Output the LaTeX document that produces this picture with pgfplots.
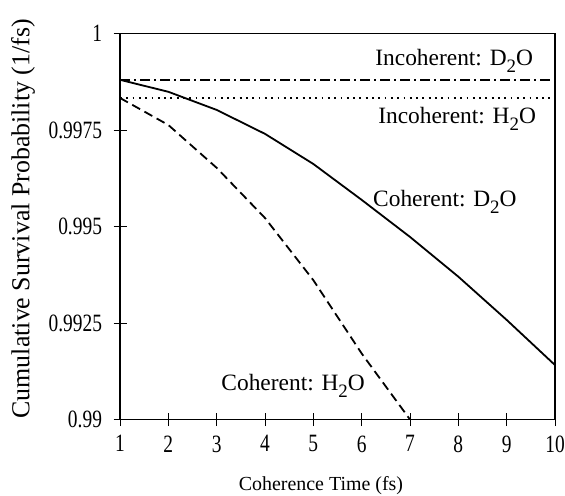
\documentclass[border=0pt]{standalone}
\usepackage{pgfplots}
\pgfplotsset{compat=1.18}
\usepackage{graphicx}
\usepackage{fontspec}
\setmainfont{Liberation Serif}
\newcommand{\tl}[1]{\scalebox{0.78}[1]{\fontsize{25}{25}\selectfont #1}}
\newcommand{\sub}[1]{\raisebox{-0.3em}{\fontsize{19}{19}\selectfont #1}}
\begin{document}
\begin{tikzpicture}
\begin{axis}[
 width=435bp, height=386bp, scale only axis,
 xmin=1, xmax=10, ymin=0.99, ymax=1,
 xtick={1,2,3,4,5,6,7,8,9,10},
 xticklabels={\tl{1},\tl{2},\tl{3},\tl{4},\tl{5},\tl{6},\tl{7},\tl{8},\tl{9},\tl{10}},
 ytick={0.99,0.9925,0.995,0.9975,1},
 yticklabels={\tl{0.99},\tl{0.9925},\tl{0.995},\tl{0.9975},\tl{1}},
 xtick pos=bottom, ytick pos=left,
 tick align=center,
 major tick length=13bp,
 axis line style={line width=1.2bp},
 every tick/.style={black, line width=0.9bp},
 yticklabel style={xshift=-8bp},
 xticklabel style={yshift=-6bp},
 scaled y ticks=false,
 xlabel={Coherence Time (fs)},
 ylabel={Cumulative Survival Probability (1/fs)},
 xlabel style={font=\fontsize{20}{20}\selectfont, at={(axis description cs:0.462,-0.172)}, anchor=center},
 ylabel style={font=\fontsize{26}{26}\selectfont, at={(axis description cs:-0.223,0.52)}, anchor=center},
]
\addplot[black, line width=1.6bp, dash pattern=on 10bp off 4bp on 2bp off 4bp] coordinates {(1,0.9988) (10,0.9988)};
\addplot[black, line width=1.8bp, dash pattern=on 1.8bp off 4.5bp] coordinates {(1,0.99833) (10,0.99833)};
\addplot[black, line width=1.8bp] coordinates {
(1,0.99880) (2,0.99849) (3,0.99802) (4,0.99740) (5,0.99662) (6,0.99569) (7,0.99473) (8,0.99370) (9,0.99258) (10,0.99141)};
\addplot[black, line width=1.8bp, dash pattern=on 9bp off 5bp] coordinates {
(1,0.99833) (2,0.99763) (3,0.99652) (4,0.99522) (5,0.99361) (6,0.99171) (7,0.99000)};
\node[anchor=base east, inner sep=0pt, font=\fontsize{23.5}{24}\selectfont] at (axis cs:9.55,0.99917) {Incoherent: D\sub{2}O};
\node[anchor=base east, inner sep=0pt, font=\fontsize{23.5}{24}\selectfont] at (axis cs:9.61,0.99768) {Incoherent: H\sub{2}O};
\node[anchor=base east, inner sep=0pt, font=\fontsize{23.5}{24}\selectfont] at (axis cs:9.21,0.99553) {Coherent: D\sub{2}O};
\node[anchor=base east, inner sep=0pt, font=\fontsize{23.5}{24}\selectfont] at (axis cs:6.07,0.99076) {Coherent: H\sub{2}O};
\end{axis}
\pgfresetboundingbox
\path ([shift={(-120bp,-75.5bp)}]current axis.south west) rectangle ([shift={(10bp,33.5bp)}]current axis.north east);
\end{tikzpicture}
\end{document}
